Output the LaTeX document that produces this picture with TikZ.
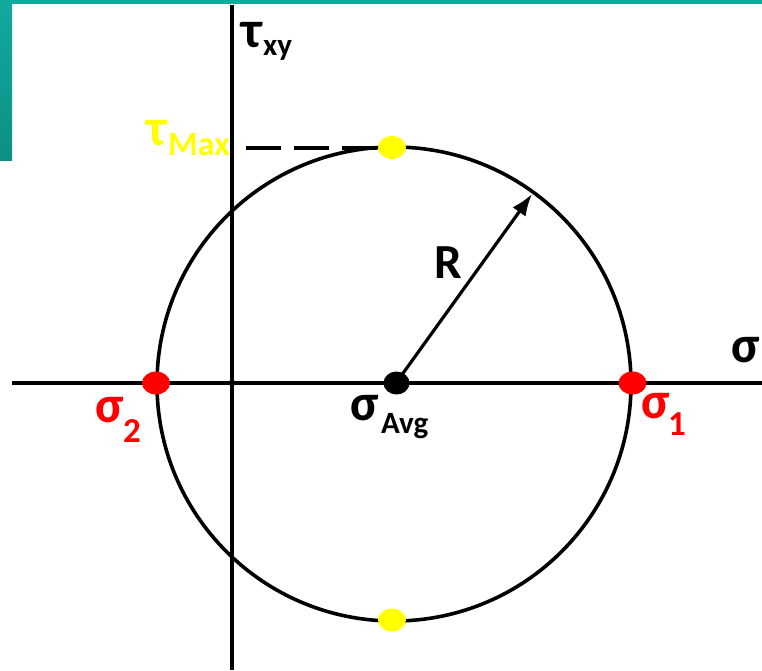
\documentclass[tikz,border=0pt]{standalone}
\usepackage{fontspec}
\setmainfont{Carlito}
\usetikzlibrary{shapes.geometric,arrows.meta}
\definecolor{teal1}{HTML}{12AA9E}
\definecolor{teal2}{HTML}{0C8F86}
\definecolor{ymark}{HTML}{FFFF00}
\definecolor{rmark}{HTML}{FF0000}
\tikzset{
  lbl/.style={inner sep=0pt, anchor=base west, font=\bfseries},
  dotmark/.style={ellipse, inner sep=0pt, minimum width=28pt, minimum height=23pt},
  axis/.style={line width=3.2pt, black},
}
\newcommand{\fs}[1]{\fontsize{#1}{#1}\selectfont}
\begin{document}
\begin{tikzpicture}[x=1pt,y=-1pt]
\useasboundingbox (0,0) rectangle (762,670);
\fill[white] (0,0) rectangle (762,670);
% teal bars
\fill[teal1] (0,0) rectangle (762,3.5);
\shade[top color=teal1, bottom color=teal2] (0,0) rectangle (12,160);
% axes
\coordinate (hl) at (12,383);
\coordinate (hr) at (762,383);
\coordinate (vt) at (232,5);
\coordinate (vb) at (232,670);
\draw[axis] (hl) -- (hr);
\draw[axis] (vt) -- (vb);
\fill (232,383) circle (3.2pt);
% circle
\coordinate (O) at (394,384);
\draw[line width=3.6pt] (O) circle (237pt);
% dashed line
\coordinate (dl) at (246,148);
\coordinate (dr) at (385,148);
\draw[line width=4.5pt, dash pattern=on 35pt off 13pt] (dl) -- (dr);
% radius arrow
\coordinate (tip) at (532,194);
\coordinate (cst) at (396,383);
\draw[line width=3.2pt, -{Latex[length=22pt,width=16pt]}] (cst) -- (tip);
% markers
\node[dotmark, fill=ymark] (ytop) at (392,147.5) {};
\node[dotmark, fill=ymark] (ybot) at (392,620) {};
\node[dotmark, fill=rmark] (s2) at (156,383) {};
\node[dotmark, fill=rmark] (s1) at (632.5,383) {};
\node[dotmark, fill=black, minimum width=26pt, minimum height=23pt] (savg) at (396.5,383) {};
% labels
\node[lbl] (tau) at (241,47) {\fs{52}τ};
\node[lbl] (tauxy) at (263,55) {\fs{31}xy};
\node[lbl, text=ymark] (taum) at (146,145) {\fs{52}τ};
\node[lbl, text=ymark] (taumx) at (168,155) {\fs{34}Max};
\node[lbl] (R) at (434,278) {\fs{49}R};
\node[lbl] (sig) at (731,362) {\fs{52}σ};
\node[lbl, text=rmark] (sg2) at (95,422) {\fs{52}σ};
\node[lbl, text=rmark] (sg2s) at (123,442) {\fs{35}2};
\node[lbl, text=rmark] (sg1) at (641,418) {\fs{52}σ};
\node[lbl, text=rmark] (sg1s) at (668,435) {\fs{35}1};
\node[lbl] (sga) at (350,420) {\fs{52}σ};
\node[lbl] (sgas) at (381,433) {\fs{31}Avg};
\end{tikzpicture}
\end{document}
